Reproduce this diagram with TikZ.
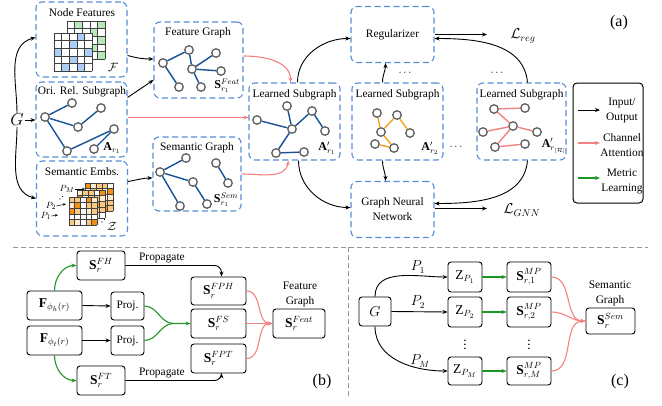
\documentclass[tikz,border=0pt]{standalone}
\usepackage{fontspec}
\setmainfont{Liberation Serif}
\usetikzlibrary{arrows.meta,calc}
\definecolor{dblue}{RGB}{88,140,214}
\definecolor{eblue}{RGB}{22,82,150}
\definecolor{ngray}{RGB}{95,95,95}
\definecolor{eorange}{RGB}{242,160,30}
\definecolor{epink}{RGB}{245,130,130}
\definecolor{egreen}{RGB}{30,150,40}
\definecolor{cgreen}{RGB}{185,232,185}
\definecolor{cblue}{RGB}{170,205,245}
\definecolor{orD}{RGB}{240,145,20}
\definecolor{orL}{RGB}{250,200,130}
\definecolor{orC}{RGB}{254,236,205}
\definecolor{sepgray}{RGB}{150,150,150}
\tikzset{
 dbox/.style={draw=dblue, dash pattern=on 6pt off 3.5pt, line width=1.1pt, rounded corners=6pt, inner sep=0},
 ttl/.style={inner sep=0},
 gn/.style={circle, draw=ngray, line width=1.3pt, fill=white, minimum size=8.5pt, inner sep=0},
 eb/.style={eblue, line width=1.4pt},
 eo/.style={eorange, line width=1.4pt},
 ep/.style={epink, line width=1.4pt},
 arr/.style={-{Stealth[length=5pt,width=4pt]}, line width=0.9pt},
 parr/.style={arr, draw=epink, line width=1.1pt},
 garr/.style={arr, draw=egreen, line width=1.1pt},
 pbox/.style={draw, line width=0.9pt, rounded corners=3pt, inner sep=0},
 bm/.style={font=\fontsize{13.5}{15}\selectfont},
 sm/.style={font=\fontsize{12}{13}\selectfont, inner sep=0},
 big/.style={font=\fontsize{16}{18}\selectfont},
 loss/.style={font=\fontsize{14}{16}\selectfont, inner sep=0},
 two/.style={align=center, font=\fontsize{11.4}{15}\selectfont, inner sep=0},
 sep/.style={draw=sepgray, line width=1pt, dash pattern=on 5pt off 3pt},
}
\newcommand{\mygrid}[4]{%
 \foreach \k in {0,...,#4}{%
  \draw[line width=0.5pt, black!75] (#1+\k*#3,#2) -- (#1+\k*#3,#2+#4*#3);
  \draw[line width=0.5pt, black!75] (#1,#2+\k*#3) -- (#1+#4*#3,#2+\k*#3);}}
\newcommand{\orgrid}[3]{%
 \fill[white] (#1,#2) rectangle ++(28,28);
 \foreach \i in {0,...,4}{\foreach \j in {0,...,4}{%
   \pgfmathtruncatemacro\cc{mod(\i*7+\j*3+\i*\j+#3,5)}%
   \ifcase\cc \def\col{orD}\or \def\col{orL}\or \def\col{orC}\or \def\col{white}\else \def\col{orL}\fi
   \fill[\col] (#1+\i*5.6,#2+\j*5.6) rectangle ++(5.6,5.6);}}
 \mygrid{#1}{#2}{5.6}{5}}
\begin{document}
\begin{tikzpicture}[x=1pt,y=-1pt,font=\fontsize{11.4}{13.5}\selectfont]
\useasboundingbox[fill=white] (0,0) rectangle (662,405);

% ---------- panel (a) boxes ----------
\node[dbox, minimum width=91pt, minimum height=75pt] (nfbox) at (81.5,39.5) {};
\node[dbox, minimum width=91pt, minimum height=75pt] (orbox) at (81.5,119.5) {};
\node[dbox, minimum width=91pt, minimum height=75pt] (sebox) at (82,198.5) {};
\node[dbox, minimum width=89pt, minimum height=76pt] (fgbox) at (198.5,60) {};
\node[dbox, minimum width=88pt, minimum height=74pt] (sgbox) at (197,174) {};
\node[dbox, minimum width=91pt, minimum height=77pt] (lsa) at (294.5,121.5) {};
\node[dbox, minimum width=91pt, minimum height=77pt] (lsb) at (397.5,121.5) {};
\node[dbox, minimum width=89pt, minimum height=77pt] (lsc) at (521.5,121.5) {};
\node[dbox, minimum width=83pt, minimum height=56pt] (reg) at (392.5,34.5) {Regularizer};
\node[dbox, minimum width=83pt, minimum height=56pt, two] (gnn) at (392.5,209.5) {Graph Neural\\Network};
\node[draw, line width=1pt, rounded corners=4pt, minimum width=70pt, minimum height=120pt] (leg) at (608,143) {};

% titles
\node[ttl] (nft) at (82,13) {Node Features};
\node[ttl] (ort) at (82,92) {Ori. Rel. Subgraph};
\node[ttl] (set) at (82,172) {Semantic Embs.};
\node[ttl] (fgt) at (198,33) {Feature Graph};
\node[ttl] (sgt) at (197,148) {Semantic Graph};
\node[ttl] (lat) at (294.5,95) {Learned Subgraph};
\node[ttl] (lbt) at (397.5,95) {Learned Subgraph};
\node[ttl] (lct) at (521.5,95) {Learned Subgraph};

% node feature matrices
\fill[white] (67,21) rectangle ++(38,38);
\foreach \a/\b in {1/0,4/0,3/1,4/2,3/3,4/4} \fill[cgreen] (67+\a*7.6,21+\b*7.6) rectangle ++(7.6,7.6);
\mygrid{67}{21}{7.6}{5}
\fill[white] (54,33) rectangle ++(38,38);
\foreach \a/\b in {3/0,2/1,0/2,4/2,2/3,1/4,3/4} \fill[cblue] (54+\a*7.6,33+\b*7.6) rectangle ++(7.6,7.6);
\mygrid{54}{33}{7.6}{5}
\node[sm] (calF) at (113,67) {$\mathcal{F}$};

% semantic embeddings
\orgrid{85}{183}{0}
\orgrid{77}{190}{2}
\orgrid{69}{197}{4}
\node[font=\fontsize{9.5}{10}\selectfont, inner sep=0] (pm) at (67,189) {$P_M$};
\node[font=\fontsize{9.5}{10}\selectfont, inner sep=0] (p2) at (51,206) {$P_2$};
\node[font=\fontsize{9.5}{10}\selectfont, inner sep=0] (p1) at (46,216) {$P_1$};
\coordinate (pmt) at (85,189);
\coordinate (p2t) at (66,204);
\coordinate (p1t) at (58,215);
\draw[-{Stealth[length=3pt,width=2.5pt]}, line width=0.5pt] (pm.east) -- (pmt);
\draw[-{Stealth[length=3pt,width=2.5pt]}, line width=0.5pt] (p2.east) -- (p2t);
\draw[-{Stealth[length=3pt,width=2.5pt]}, line width=0.5pt] (p1.east) -- (p1t);
\foreach \p in {(60,199),(62.5,196.5)} \fill \p circle (0.6);
\foreach \p in {(102,222),(104.5,219.5)} \fill \p circle (0.6);
\node[sm] (calZ) at (112,226) {$\mathcal{Z}$};

% G
\node[big, inner sep=1pt] (G) at (17,120) {$G$};
\draw[arr] (G.east) -- (orbox.west |- G.east);
\draw[arr] (G.north) to[out=90,in=195] ([yshift=2pt]nfbox.west);
\draw[arr] (G.south) to[out=-90,in=165] (sebox.west);

% ori graph
\node[gn] (og1) at (45,117) {}; \node[gn] (og2) at (72,103) {}; \node[gn] (og3) at (78,127) {};
\node[gn] (og4) at (101,108) {}; \node[gn] (og5) at (114,129) {}; \node[gn] (og6) at (67,151) {};
\node[gn] (og7) at (94,149) {};
\draw[eb] (og1)--(og2) (og1)--(og3) (og1)--(og6) (og3)--(og4) (og6)--(og5) (og7)--(og5);
\node[sm] (ar1) at (112,148) {$\mathbf{A}_{r_1}$};

% feature graph
\node[gn] (fg1) at (163,63) {}; \node[gn] (fg2) at (189,50) {}; \node[gn] (fg3) at (192,69) {};
\node[gn] (fg4) at (216,53) {}; \node[gn] (fg5) at (221,71) {}; \node[gn] (fg6) at (179,87) {};
\node[gn] (fg7) at (201,87) {};
\draw[eb] (fg1)--(fg2) (fg1)--(fg6) (fg2)--(fg3) (fg3)--(fg4) (fg3)--(fg5) (fg3)--(fg7);
\node[sm] (sfr1) at (227,86) {$\mathbf{S}^{Feat}_{r_1}$};

% semantic graph
\node[gn] (sg1) at (160,172) {}; \node[gn] (sg2) at (186,158) {}; \node[gn] (sg3) at (193,182) {};
\node[gn] (sg4) at (216,163) {}; \node[gn] (sg5) at (228,183) {}; \node[gn] (sg6) at (180,206) {};
\node[gn] (sg7) at (207,204) {};
\draw[eb] (sg1)--(sg2) (sg1)--(sg3) (sg1)--(sg6) (sg3)--(sg7) (sg4)--(sg5);
\node[sm] (ssr1) at (226,200) {$\mathbf{S}^{Sem}_{r_1}$};

% learned subgraph 1
\node[gn] (la1) at (257,120) {}; \node[gn] (la2) at (287,106) {}; \node[gn] (la3) at (292,129) {};
\node[gn] (la4) at (312,111) {}; \node[gn] (la5) at (325,131) {}; \node[gn] (la6) at (276,153) {};
\node[gn] (la7) at (304,152) {};
\draw[eb] (la1)--(la3) (la2)--(la3) (la3)--(la4) (la4)--(la5) (la3)--(la6) (la6)--(la7);
\node[sm] (aa) at (327,148) {$\mathbf{A}'_{r_1}$};

% learned subgraph 2
\node[gn] (lb1) at (377,113) {}; \node[gn] (lb2) at (397,115) {}; \node[gn] (lb3) at (381,132) {};
\node[gn] (lb4) at (410,133) {}; \node[gn] (lb5) at (375,144) {}; \node[gn] (lb6) at (394,148) {};
\draw[eo] (lb1)--(lb3) (lb3)--(lb2) (lb2)--(lb4) (lb3)--(lb6) (lb5)--(lb6);
\node[sm] (ab) at (430,148) {$\mathbf{A}'_{r_2}$};

% learned subgraph 3
\node[gn] (lc1) at (494,109) {}; \node[gn] (lc2) at (525,108) {}; \node[gn] (lc3) at (513,126) {};
\node[gn] (lc4) at (483,132) {}; \node[gn] (lc5) at (537,132) {}; \node[gn] (lc6) at (495,147) {};
\node[gn] (lc7) at (525,144) {};
\draw[ep] (lc1)--(lc2) (lc1)--(lc3) (lc3)--(lc4) (lc3)--(lc5) (lc3)--(lc6) (lc6)--(lc7);
\node[sm] (ac) at (554,146) {$\mathbf{A}'_{r_{|\mathcal{R}|}}$};

% dots
\node[inner sep=0] (d1) at (405,73) {$\cdots$};
\node[inner sep=0] (d2) at (497,73) {$\cdots$};
\node[inner sep=0] (d3) at (456,147) {$\cdots$};

% connectors (a)
\draw[arr] ([yshift=-16pt]nfbox.east) to[out=-15,in=180] ([yshift=1pt]fgbox.west);
\draw[arr] ([yshift=22pt]orbox.east) -- ([yshift=-20pt]fgbox.west);
\draw[arr] ([yshift=17pt]sebox.east) to[out=10,in=180] ([yshift=-4pt]sgbox.west);
\draw[parr] ([yshift=4pt]fgbox.east) to[out=0,in=90] ([xshift=-4pt]lsa.north);
\draw[parr] ([yshift=2pt]orbox.east) -- ([yshift=4pt]lsa.west);
\draw[parr] (sgbox.east) to[out=0,in=-100] ([xshift=-6pt]lsa.south);
\draw[arr] ([xshift=3pt]lsa.north) to[out=90,in=180] ([yshift=-4pt]reg.west);
\draw[arr] ([xshift=-15pt]lsb.north) to[out=90,in=-90] ([xshift=-7pt]reg.south);
\draw[arr] ([xshift=6pt]lsc.north) to[out=95,in=0] ([yshift=-4pt]reg.east);
\draw[arr] ([xshift=4pt]lsa.south) to[out=-90,in=180] ([yshift=2pt]gnn.west);
\draw[arr] ([xshift=-15pt]lsb.south) to[out=-90,in=90] ([xshift=-7pt]gnn.north);
\draw[arr] ([xshift=6pt]lsc.south) to[out=-95,in=0] ([yshift=6pt]gnn.east);
\coordinate (lregin) at (487,34.5);
\coordinate (lgnnin) at (487,208.5);
\draw[arr] (reg.east) -- (lregin);
\draw[arr] ([yshift=1pt]gnn.east) -- (lgnnin);
\node[loss] (lreg) at (523,36) {$\mathcal{L}_{reg}$};
\node[loss] (lgnn) at (522,210) {$\mathcal{L}_{GNN}$};

% legend
\coordinate (l1a) at (578,110); \coordinate (l1b) at (600,110);
\coordinate (l2a) at (578,143); \coordinate (l2b) at (600,143);
\coordinate (l3a) at (578,178); \coordinate (l3b) at (600,178);
\draw[arr] (l1a) -- (l1b);
\draw[parr] (l2a) -- (l2b);
\draw[garr] (l3a) -- (l3b);
\node[two] (lt1) at (622,110.5) {Input/\\Output};
\node[two] (lt2) at (622,145.5) {Channel\\Attention};
\node[two] (lt3) at (622,181.5) {Metric\\Learning};
\node[big] (la) at (619,23) {(a)};

% separators
\draw[sep] (13,247) -- (648,247);
\draw[sep] (348,247) -- (348,396);

% ---------- panel (b) ----------
\node[pbox, bm, minimum width=48pt, minimum height=29pt] (sfh) at (101,265.5) {$\mathbf{S}_r^{FH}$};
\node[pbox, bm, minimum width=55pt, minimum height=29pt] (fh) at (54.5,305.5) {$\mathbf{F}_{\phi_h(r)}$};
\node[pbox, minimum width=33pt, minimum height=28pt] (pj1) at (127.5,306) {Proj.};
\node[pbox, bm, minimum width=55pt, minimum height=29pt] (ft) at (54.5,340.5) {$\mathbf{F}_{\phi_t(r)}$};
\node[pbox, minimum width=33pt, minimum height=29pt] (pj2) at (127.5,340.5) {Proj.};
\node[pbox, bm, minimum width=48pt, minimum height=29pt] (sft) at (101,380.5) {$\mathbf{S}_r^{FT}$};
\node[pbox, bm, minimum width=55pt, minimum height=28pt] (sfph) at (218.5,291) {$\mathbf{S}_r^{FPH}$};
\node[pbox, bm, minimum width=55pt, minimum height=29pt] (sfs) at (218.5,323.5) {$\mathbf{S}_r^{FS}$};
\node[pbox, bm, minimum width=55pt, minimum height=29pt] (sfpt) at (218.5,358.5) {$\mathbf{S}_r^{FPT}$};
\node[pbox, bm, minimum width=52pt, minimum height=29pt] (sfeat) at (299,323.5) {$\mathbf{S}_r^{Feat}$};
\node[two] (fgl) at (300,294.5) {Feature\\Graph};

\draw[arr] (fh.east) -- (pj1.west);
\draw[arr] (ft.east) -- (pj2.west);
\draw[garr] (fh.north) to[out=90,in=180] (sfh.west);
\draw[garr] (ft.south) to[out=-90,in=180] (sft.west);
\draw[egreen, line width=1.1pt] (pj1.east) to[out=0,in=180] ([xshift=-17pt]sfs.west);
\draw[garr] (pj2.east) to[out=0,in=180] ([xshift=-17pt]sfs.west) -- (sfs.west);
\draw[arr, rounded corners=7pt] (sfh.east) -| node[pos=0.19, above, inner sep=2pt] {Propagate} ([xshift=3pt]sfph.north);
\draw[arr, rounded corners=7pt] (sft.east) -| node[pos=0.19, above, inner sep=2pt] {Propagate} ([xshift=3pt]sfpt.south);
\draw[parr] (sfph.east) to[out=0,in=180] (sfeat.west);
\draw[parr] (sfs.east) -- (sfeat.west);
\draw[parr] (sfpt.east) to[out=0,in=180] (sfeat.west);
\node[big] (lb) at (322,382) {(b)};

% ---------- panel (c) ----------
\node[pbox, bm, minimum width=32pt, minimum height=29pt] (gc) at (375,311.5) {$G$};
\node[pbox, bm, minimum width=34pt, minimum height=30pt] (zp1) at (465,277) {$\mathrm{Z}_{P_1}$};
\node[pbox, bm, minimum width=34pt, minimum height=30pt] (zp2) at (465,312) {$\mathrm{Z}_{P_2}$};
\node[pbox, bm, minimum width=34pt, minimum height=28pt] (zpm) at (465,371) {$\mathrm{Z}_{P_M}$};
\node[pbox, bm, minimum width=44pt, minimum height=30pt] (sm1) at (529,277) {$\mathbf{S}_{r,1}^{MP}$};
\node[pbox, bm, minimum width=44pt, minimum height=30pt] (sm2) at (529,312) {$\mathbf{S}_{r,2}^{MP}$};
\node[pbox, bm, minimum width=44pt, minimum height=28pt] (smm) at (529,371) {$\mathbf{S}_{r,M}^{MP}$};
\node[pbox, bm, minimum width=49pt, minimum height=26pt] (ssem) at (610.5,321) {$\mathbf{S}_r^{Sem}$};
\node[two] (sgl) at (610,293) {Semantic\\Graph};
\node[bm, inner sep=0] (vd1) at (465,342) {$\vdots$};
\node[bm, inner sep=0] (vd2) at (529,342) {$\vdots$};

\draw[arr] (gc.north) to[out=90,in=180] (zp1.west);
\draw[arr] (gc.east) -- (zp2.west);
\draw[arr] (gc.south) to[out=-90,in=180] (zpm.west);
\node[bm, inner sep=0] (pl1) at (418,267) {$P_1$};
\node[bm, inner sep=0] (pl2) at (418,302) {$P_2$};
\node[bm, inner sep=0] (plm) at (420,361) {$P_M$};
\draw[garr] (zp1.east) -- (sm1.west);
\draw[garr] (zp2.east) -- (sm2.west);
\draw[garr] (zpm.east) -- (smm.west);
\draw[parr] (sm1.east) to[out=0,in=180] (ssem.west);
\draw[parr] (sm2.east) to[out=0,in=180] (ssem.west);
\draw[parr] (smm.east) to[out=0,in=180] (ssem.west);
\node[big] (lc) at (620,382) {(c)};
\end{tikzpicture}
\end{document}
